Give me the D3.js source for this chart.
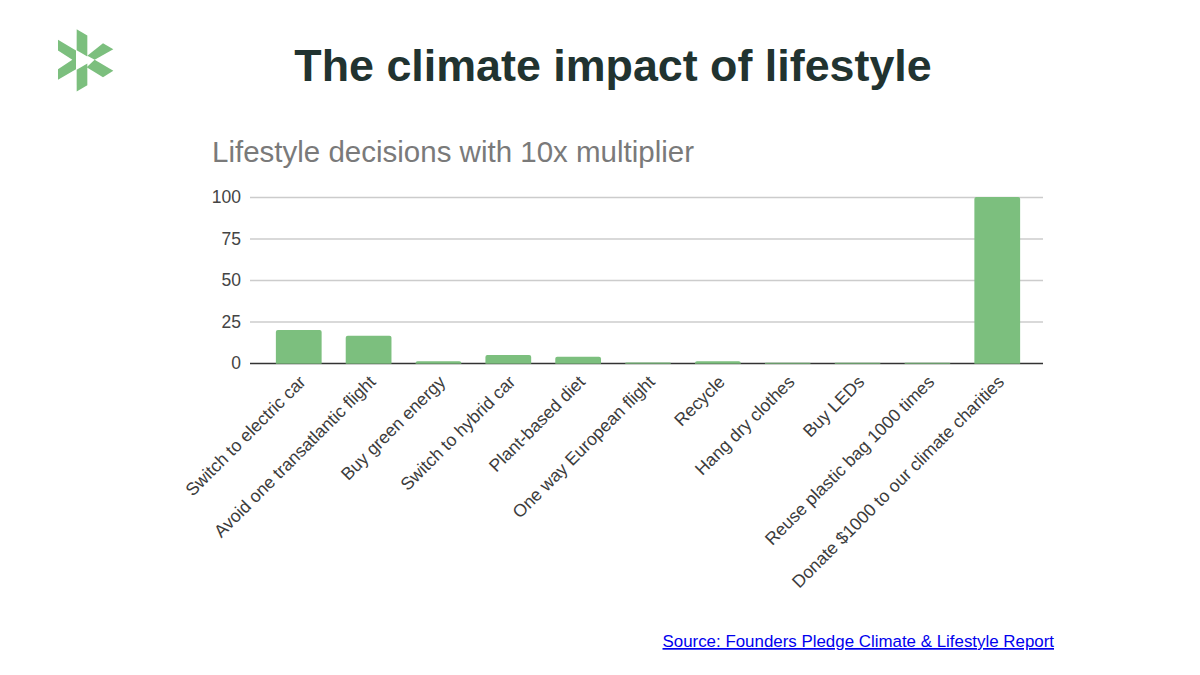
<!DOCTYPE html>
<html>
<head>
<meta charset="utf-8">
<script src="https://cdn.jsdelivr.net/npm/d3@7"></script>
<style>
  html, body { margin: 0; background: #fff; }
  text { font-family: "Liberation Sans", Arial, sans-serif; }
</style>
</head>
<body>
<div id="chart"></div>
<script>
var categories = ['Switch to electric car', 'Avoid one transatlantic flight', 'Buy green energy',
    'Switch to hybrid car', 'Plant-based diet', 'One way European flight', 'Recycle',
    'Hang dry clothes', 'Buy LEDs', 'Reuse plastic bag 1000 times', 'Donate $1000 to our climate charities'];
var values = [19.9, 16.4, 1, 4.8, 3.8, 0.3, 1, 0.2, 0.1, 0.1, 100];
var yTicks = [0, 25, 50, 75, 100];

var width = 1200, height = 675;
var green = '#7cbf7e';

var svg = d3.select('#chart').append('svg')
    .attr('width', width)
    .attr('height', height)
    .style('display', 'block');

// logo, six blades around a white triangle
var logo = [
    [[68, 8], [100, 27], [100, 90], [68, 71]],
    [[147, 50], [178, 68], [122, 100], [100, 88]],
    [[122, 100], [178, 133], [147, 152], [98, 122]],
    [[68, 195], [100, 176], [100, 111], [68, 130]],
    [[12, 40], [66, 72], [66, 128], [12, 160], [12, 128], [55, 100], [12, 72]]
];
svg.append('g')
    .attr('transform', 'translate(54,26.5) scale(0.3333)')
    .selectAll('polygon').data(logo).enter()
    .append('polygon')
    .attr('points', d => d.join(' '))
    .attr('fill', green);

svg.append('text')
    .text('The climate impact of lifestyle')
    .attr('x', 613).attr('y', 80.5)
    .attr('text-anchor', 'middle')
    .attr('font-size', 44.8)
    .attr('font-weight', 700)
    .attr('fill', '#213330');

svg.append('text')
    .text('Lifestyle decisions with 10x multiplier')
    .attr('x', 212).attr('y', 162)
    .attr('font-size', 29.5)
    .attr('fill', '#7a7a7a');

var xScale = d3.scaleBand().domain(categories).range([264, 1032]).paddingInner(0.345).paddingOuter(0.17);
var yScale = d3.scaleLinear().domain([0, 100]).range([363, 197]);

// gridlines + y labels
var yAxis = svg.append('g')
    .attr('transform', 'translate(250,0)')
    .call(d3.axisLeft(yScale).tickValues(yTicks).tickSize(-793).tickPadding(9));
yAxis.select('.domain').remove();
yAxis.selectAll('.tick line')
    .attr('stroke', d => d === 0 ? '#333' : '#cccccc')
    .attr('stroke-width', 1.5);
yAxis.selectAll('.tick text')
    .attr('font-size', 17.5)
    .attr('fill', '#444');

// x labels
var xAxis = svg.append('g')
    .attr('transform', 'translate(0,363)')
    .call(d3.axisBottom(xScale).tickSize(0).tickPadding(0));
xAxis.select('.domain').remove();
xAxis.selectAll('.tick text')
    .attr('font-size', 17.6)
    .attr('fill', '#3c3c3c')
    .attr('text-anchor', 'end')
    .attr('dy', 0)
    .attr('transform', 'translate(8,20) rotate(-45)');

svg.append('g').selectAll('path').data(categories).enter()
    .append('path')
    .attr('fill', green)
    .attr('d', (d, i) => {
        var x0 = xScale(d), w = xScale.bandwidth();
        var top = yScale(values[i]), base = yScale(0) + 0.75;
        var r = Math.min(2, base - top);
        return `M${x0},${base}V${top + r}Q${x0},${top} ${x0 + r},${top}H${x0 + w - r}Q${x0 + w},${top} ${x0 + w},${top + r}V${base}Z`;
    });

svg.append('a').attr('href', '#').append('text')
    .text('Source: Founders Pledge Climate & Lifestyle Report')
    .attr('x', 1054).attr('y', 647)
    .attr('text-anchor', 'end')
    .attr('font-size', 16.9)
    .attr('fill', '#0000ee')
    .attr('text-decoration', 'underline');
</script>
</body>
</html>
